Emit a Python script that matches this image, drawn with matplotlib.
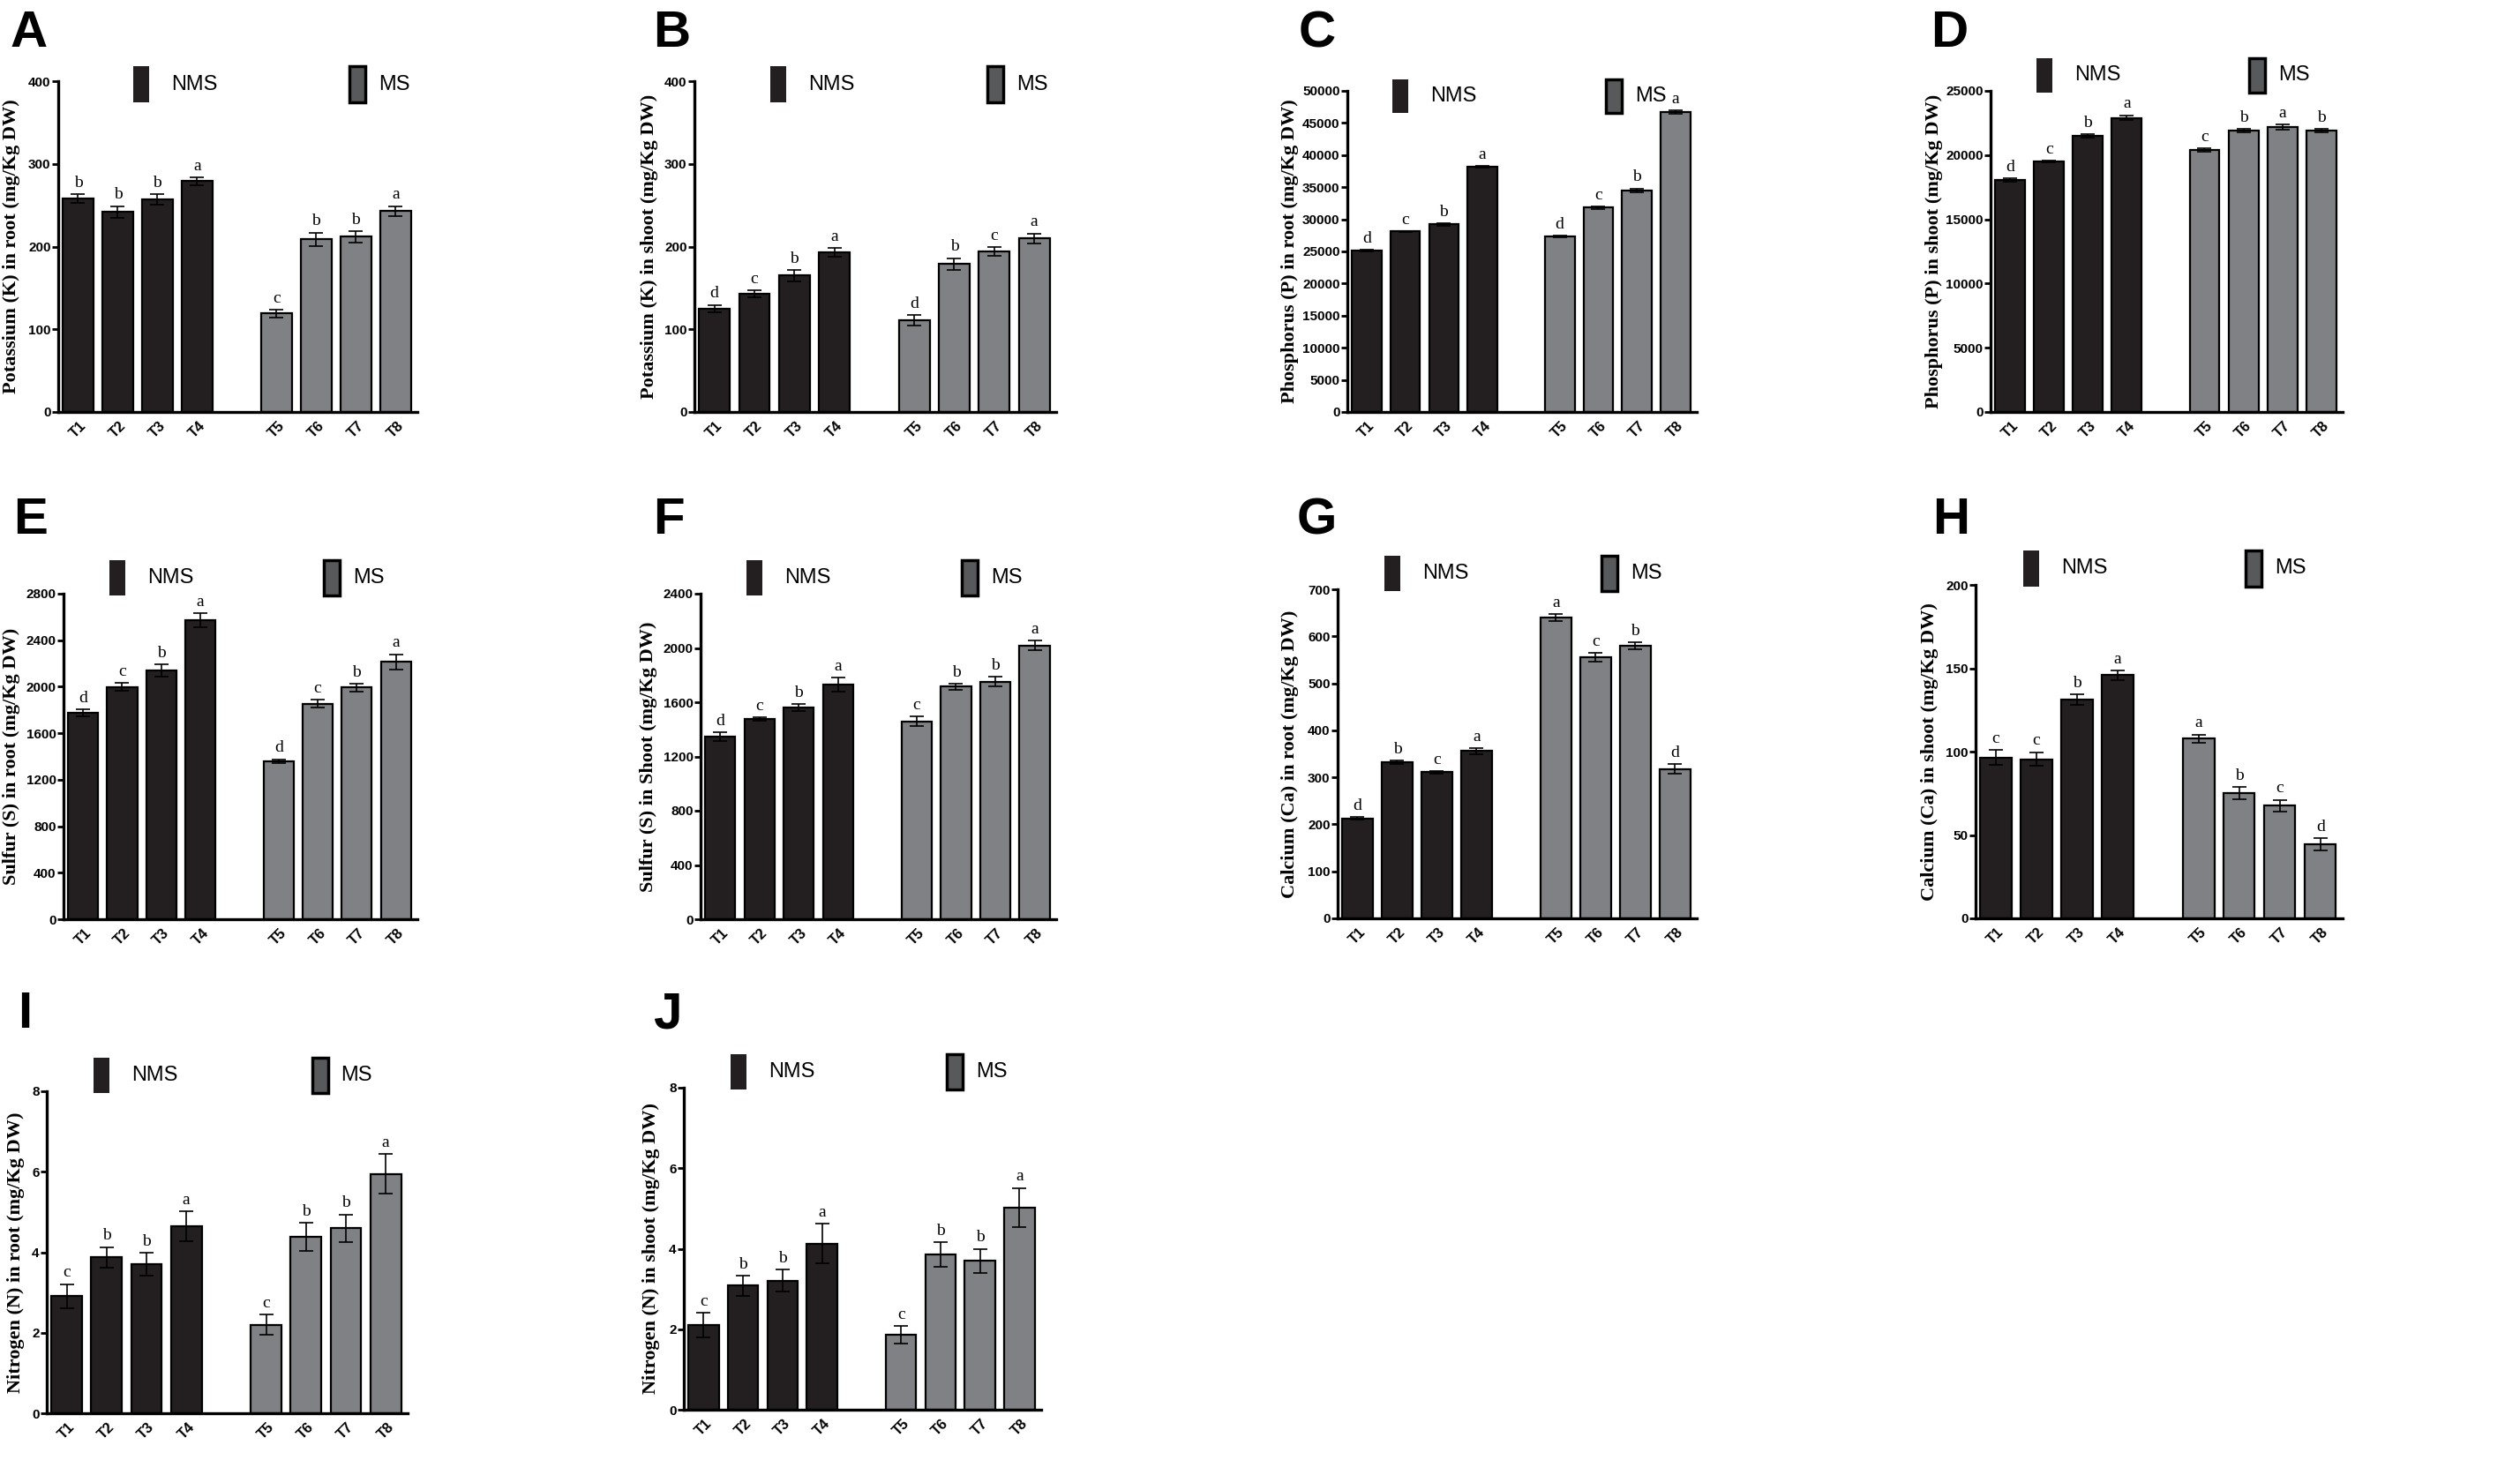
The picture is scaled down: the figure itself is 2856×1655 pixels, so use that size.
import matplotlib
matplotlib.use("Agg")
import matplotlib.pyplot as plt
from matplotlib.patches import Rectangle

# treatments and groups
treatments = ['T1', 'T2', 'T3', 'T4', 'T5', 'T6', 'T7', 'T8']
groups = ['NMS', 'MS']

# A - potassium in root
k_root = [258, 242, 257, 279, 119, 209, 212, 243]
k_root_err = [5, 7, 6, 5, 4.5, 8, 7, 6]
k_root_sig = ['b', 'b', 'b', 'a', 'c', 'b', 'b', 'a']

# B - potassium in shoot
k_shoot = [125, 143, 165, 193, 111, 179, 194, 210]
k_shoot_err = [4.5, 4, 7, 5, 6, 7, 5, 6]
k_shoot_sig = ['d', 'c', 'b', 'a', 'd', 'b', 'c', 'a']

# C - phosphorus in root
p_root = [25100, 28100, 29200, 38200, 27300, 31800, 34500, 46700]
p_root_err = [150, 100, 150, 100, 150, 250, 300, 300]
p_root_sig = ['d', 'c', 'b', 'a', 'd', 'c', 'b', 'a']

# D - phosphorus in shoot
p_shoot = [18050, 19500, 21500, 22900, 20400, 21900, 22200, 21900]
p_shoot_err = [150, 80, 150, 200, 150, 150, 200, 120]
p_shoot_sig = ['d', 'c', 'b', 'a', 'c', 'b', 'a', 'b']

# E - sulfur in root
s_root = [1774, 1999, 2139, 2572, 1361, 1855, 1992, 2212]
s_root_err = [30, 33, 53, 60, 15, 33, 33, 68]
s_root_sig = ['d', 'c', 'b', 'a', 'd', 'c', 'b', 'a']

# F - sulfur in shoot
s_shoot = [1344, 1475, 1559, 1729, 1460, 1714, 1751, 2018]
s_shoot_err = [33, 13, 26, 52, 33, 22, 35, 37]
s_shoot_sig = ['d', 'c', 'b', 'a', 'c', 'b', 'b', 'a']

# G - calcium in root
ca_root = [213, 332, 311, 356, 640, 556, 579, 318]
ca_root_err = [2, 4, 3, 6, 7, 9, 7.5, 10]
ca_root_sig = ['d', 'b', 'c', 'a', 'a', 'c', 'b', 'd']

# H - calcium in shoot
ca_shoot = [96.4, 95.5, 131, 145.8, 107.7, 75, 67.6, 44.5]
ca_shoot_err = [4.4, 4.2, 3.2, 2.7, 2.6, 3.7, 3.5, 3.5]
ca_shoot_sig = ['c', 'c', 'b', 'a', 'a', 'b', 'c', 'd']

# I - nitrogen in root
n_root = [2.91, 3.87, 3.70, 4.64, 2.20, 4.38, 4.60, 5.95]
n_root_err = [0.30, 0.26, 0.29, 0.37, 0.26, 0.35, 0.34, 0.50]
n_root_sig = ['c', 'b', 'b', 'a', 'c', 'b', 'b', 'a']

# J - nitrogen in shoot
n_shoot = [2.10, 3.08, 3.21, 4.13, 1.86, 3.86, 3.70, 5.02]
n_shoot_err = [0.31, 0.25, 0.28, 0.50, 0.22, 0.30, 0.30, 0.49]
n_shoot_sig = ['c', 'b', 'b', 'a', 'c', 'b', 'b', 'a']

W, H = 2856, 1655
NMS_COLOR = '#231f20'
MS_COLOR = '#808184'
SANS = ['Liberation Sans Narrow', 'Liberation Sans', 'DejaVu Sans']
SERIF = ['Liberation Serif', 'DejaVu Serif']

# letter, ylabel, values, errors, significance, ymax, ystep,
# axes box in pixels (left, top, right, bottom), legend style, ylabel offset px, letter pos px
panels = [
    ('A', 'Potassium (K) in root (mg/Kg DW)', k_root, k_root_err, k_root_sig,
     400, 100, (66, 92, 473, 467), 'wide', 53, (12, 53)),
    ('B', 'Potassium (K) in shoot (mg/Kg DW)', k_shoot, k_shoot_err, k_shoot_sig,
     400, 100, (787, 92, 1197, 467), 'wide', 51, (740, 53)),
    ('C', 'Phosphorus (P) in root (mg/Kg DW)', p_root, p_root_err, p_root_sig,
     50000, 5000, (1527, 103, 1923, 467), 'mid', 65, (1472, 53)),
    ('D', 'Phosphorus (P) in shoot (mg/Kg DW)', p_shoot, p_shoot_err, p_shoot_sig,
     25000, 5000, (2256, 103, 2655, 467), 'high', 64, (2188, 53)),
    ('E', 'Sulfur (S) in root (mg/Kg DW)', s_root, s_root_err, s_root_sig,
     2800, 400, (72, 673, 473, 1042), 'high', 59, (15, 605)),
    ('F', 'Sulfur (S) in Shoot (mg/Kg DW)', s_shoot, s_shoot_err, s_shoot_sig,
     2400, 400, (794, 673, 1197, 1042), 'high', 59, (740, 605)),
    ('G', 'Calcium (Ca) in root (mg/Kg DW)', ca_root, ca_root_err, ca_root_sig,
     700, 100, (1516, 668, 1923, 1041), 'high', 54, (1470, 605)),
    ('H', 'Calcium (Ca) in shoot (mg/Kg DW)', ca_shoot, ca_shoot_err, ca_shoot_sig,
     200, 50, (2239, 663, 2655, 1041), 'high', 52, (2190, 605)),
    ('I', 'Nitrogen (N) in root (mg/Kg DW)', n_root, n_root_err, n_root_sig,
     8, 2, (53, 1237, 462, 1602), 'high', 35, (20, 1165)),
    ('J', 'Nitrogen (N) in shoot (mg/Kg DW)', n_shoot, n_shoot_err, n_shoot_sig,
     8, 2, (775, 1233, 1180, 1598), 'high', 37, (740, 1165)),
]

legend_styles = {
    'wide': (0.21, 0.81, 0.936, 0.109),
    'mid': (0.13, 0.74, 0.930, 0.106),
    'high': (0.13, 0.735, 0.995, 0.108),
}

# bar positions: gap of one slot between the two groups
xpos = [i if i < 4 else i + 1 for i in range(len(treatments))]
colors = [NMS_COLOR] * 4 + [MS_COLOR] * 4

fig = plt.figure(figsize=(W / 100, H / 100), dpi=100)

for (letter, ylabel, vals, errs, sig, ymax, ystep, box, lstyle, loff, lpos) in panels:
    l, t, r, b = box
    ax = fig.add_axes([l / W, 1 - b / H, (r - l) / W, (b - t) / H])
    ax.bar(xpos, vals, width=0.77, color=colors, edgecolor='black', linewidth=1.6, zorder=2)
    ax.errorbar(xpos, vals, yerr=errs, fmt='none', ecolor='black', elinewidth=1.2,
                capsize=6, capthick=1.2, zorder=3)
    for x, v, e, s in zip(xpos, vals, errs, sig):
        ax.annotate(s, (x, v + e), xytext=(0, 3), textcoords='offset points',
                    ha='center', va='bottom', fontsize=14, family=SERIF)

    ax.set_xlim(-0.5, 8.55)
    ax.set_ylim(0, ymax)
    ax.set_yticks(range(0, ymax + 1, ystep))
    ax.set_xticks(xpos)
    ax.set_xticklabels(treatments, rotation=45, fontsize=12, fontweight='bold', family=SANS)
    for lab in ax.get_yticklabels():
        lab.set_fontsize(11)
        lab.set_fontweight('bold')
        lab.set_family(SANS)
    ax.tick_params(axis='x', length=0, pad=6)
    ax.tick_params(axis='y', length=5, width=2, pad=1)
    for side in ['top', 'right']:
        ax.spines[side].set_visible(False)
    for side in ['left', 'bottom']:
        ax.spines[side].set_linewidth(2.4)

    ax.set_ylabel(ylabel, fontsize=16, fontweight='bold', family=SERIF)
    ax.yaxis.set_label_coords(-loff / (r - l), 0.5)
    ax.yaxis.label.set_verticalalignment('center')

    # legend boxes drawn above the bars
    nx, mx, y0, hh = legend_styles[lstyle]
    bw = 18 / (r - l)
    ax.add_patch(Rectangle((nx, y0), bw, hh, transform=ax.transAxes, clip_on=False,
                           facecolor=NMS_COLOR, edgecolor='none'))
    ax.add_patch(Rectangle((mx, y0), bw, hh, transform=ax.transAxes, clip_on=False,
                           facecolor='#58595b', edgecolor='black', linewidth=2.5))
    ax.text(nx + bw + 25 / (r - l), y0 + hh / 2, groups[0], transform=ax.transAxes,
            ha='left', va='center', fontsize=17, family=SANS)
    ax.text(mx + bw + 15 / (r - l), y0 + hh / 2, groups[1], transform=ax.transAxes,
            ha='left', va='center', fontsize=17, family=SANS)

    fig.text(lpos[0] / W, 1 - lpos[1] / H, letter, ha='left', va='baseline',
             fontsize=42, fontweight='bold', family=['Liberation Sans', 'DejaVu Sans'])

fig.savefig('out.png', dpi=100)
